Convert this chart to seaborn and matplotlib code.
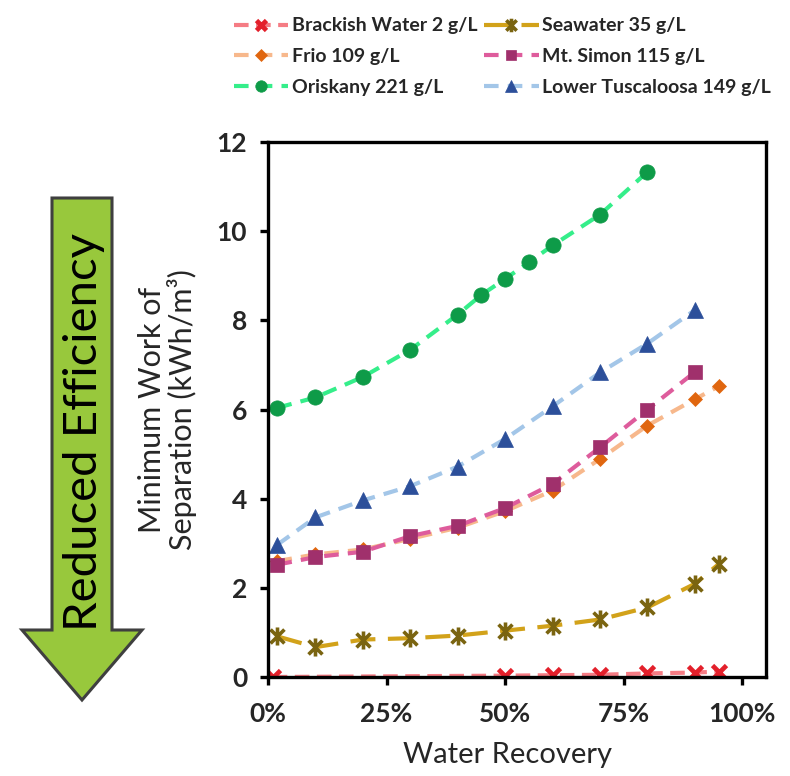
import numpy as np
import pandas as pd
import matplotlib
matplotlib.use("Agg")
import matplotlib.pyplot as plt
from matplotlib.path import Path
from matplotlib.patches import Polygon
import seaborn as sns

# ---------------- data ----------------
x_main = [0.02, 0.10, 0.20, 0.30, 0.40, 0.50, 0.60, 0.70, 0.80, 0.90, 0.95]
x_brackish = [0.01, 0.50, 0.60, 0.70, 0.80, 0.90, 0.95]
y_brackish = [0.00, 0.03, 0.04, 0.05, 0.08, 0.10, 0.12]
y_seawater = [0.91, 0.67, 0.84, 0.87, 0.93, 1.04, 1.15, 1.29, 1.56, 2.09, 2.53]
y_frio = [2.60, 2.75, 2.86, 3.10, 3.35, 3.72, 4.18, 4.89, 5.64, 6.23, 6.52]
x_mtsimon = [0.02, 0.10, 0.20, 0.30, 0.40, 0.50, 0.60, 0.70, 0.80, 0.90]
y_mtsimon = [2.52, 2.69, 2.81, 3.16, 3.39, 3.79, 4.33, 5.15, 6.00, 6.84]
x_oriskany = [0.02, 0.10, 0.20, 0.30, 0.40, 0.45, 0.50, 0.55, 0.60, 0.70, 0.80]
y_oriskany = [6.04, 6.27, 6.73, 7.34, 8.13, 8.57, 8.93, 9.30, 9.68, 10.37, 11.33]
x_tusc = [0.02, 0.10, 0.20, 0.30, 0.40, 0.50, 0.60, 0.70, 0.80, 0.90]
y_tusc = [2.97, 3.58, 3.96, 4.28, 4.72, 5.34, 6.07, 6.83, 7.48, 8.23]

labels = ["Brackish Water 2 g/L", "Seawater 35 g/L", "Frio 109 g/L",
          "Mt. Simon 115 g/L", "Oriskany 221 g/L", "Lower Tuscaloosa 149 g/L"]
x_ticks = [0, 0.25, 0.5, 0.75, 1.0]
x_ticklabels = ["0%", "25%", "50%", "75%", "100%"]
y_ticks = [0, 2, 4, 6, 8, 10, 12]

# ---------------- style ----------------
sns.set_theme(style="white")
plt.rcParams["font.family"] = ["Lato", "DejaVu Sans"]

W, H = 790, 776
fig = plt.figure(figsize=(W / 100, H / 100), dpi=100)
fig.patch.set_facecolor("white")

def fx(px):
    return px / W

def fy(py):
    return 1 - py / H

ax_l, ax_r, ax_t, ax_b = 268, 766, 142, 677
ax = fig.add_axes([fx(ax_l), fy(ax_b), fx(ax_r - ax_l), (ax_b - ax_t) / H])

star = Path([(-1, -1), (1, 1), (-1, 1), (1, -1), (0, -1.3), (0, 1.3)],
            [Path.MOVETO, Path.LINETO, Path.MOVETO, Path.LINETO, Path.MOVETO, Path.LINETO])

series = [
    dict(x=x_brackish, y=y_brackish, label=labels[0], line="#F57C84", mfc="#E3202B", mec="#E3202B",
         marker="x", ms=10, mew=3.4, dash=(3.5, 1.8)),
    dict(x=x_main, y=y_seawater, label=labels[1], line="#D2A21A", mfc="#7A6410", mec="#7A6410",
         marker=star, ms=13, mew=2.6, dash=(6, 3)),
    dict(x=x_main, y=y_frio, label=labels[2], line="#F7B88C", mfc="#E0660F", mec="#E0660F",
         marker="D", ms=7.5, mew=0.5, dash=(3.5, 2.2)),
    dict(x=x_mtsimon, y=y_mtsimon, label=labels[3], line="#DE5C9C", mfc="#A0306C", mec="#A0306C",
         marker="s", ms=9.5, mew=0.5, dash=(3.5, 2.2)),
    dict(x=x_oriskany, y=y_oriskany, label=labels[4], line="#35EE8A", mfc="#0E9B48", mec="#0E9B48",
         marker="o", ms=11, mew=0.5, dash=(3.5, 2.2)),
    dict(x=x_tusc, y=y_tusc, label=labels[5], line="#A3C6E8", mfc="#2C4F9A", mec="#2C4F9A",
         marker="^", ms=12, mew=0.5, dash=(3.5, 2.2)),
]

handles = {}
for s in series:
    df = pd.DataFrame({"x": s["x"], "y": s["y"]})
    sns.lineplot(data=df, x="x", y="y", ax=ax, color=s["line"], lw=3.0,
                 linestyle=(0, s["dash"]), marker=s["marker"], markersize=s["ms"],
                 markerfacecolor=s["mfc"], markeredgecolor=s["mec"], markeredgewidth=s["mew"],
                 label=s["label"], legend=False)
    handles[s["label"]] = ax.lines[-1]

ax.set_xlim(0, 1.05)
ax.set_ylim(0, 12)
ax.set_xticks(x_ticks)
ax.set_xticklabels(x_ticklabels)
ax.set_yticks(y_ticks)
for sp in ax.spines.values():
    sp.set_visible(True)
    sp.set_color("black")
    sp.set_linewidth(2.4)
ax.tick_params(axis="both", direction="out", length=6, width=2.4, color="black",
               labelsize=19, bottom=True, left=True)
ax.tick_params(axis="x", pad=12)
ax.tick_params(axis="y", pad=9)
for t in ax.get_xticklabels() + ax.get_yticklabels():
    t.set_fontweight("bold")
ax.grid(False)

ax.set_xlabel("Water Recovery", fontsize=21)
ax.xaxis.set_label_coords(0.48, -0.122)
ax.set_ylabel("Minimum Work of\nSeparation (kWh/m³)", fontsize=22, linespacing=1.05)
ax.yaxis.set_label_coords(-0.143, 0.5)

# legend
order = [labels[0], labels[2], labels[4], labels[1], labels[3], labels[5]]
fig.legend([handles[k] for k in order], order, loc="upper left",
           bbox_to_anchor=(fx(216), fy(0)), ncol=2, frameon=False,
           prop=dict(family=["Lato", "DejaVu Sans"], weight="bold", size=14),
           handlelength=2.8, handletextpad=0.2, columnspacing=0.35, labelspacing=0.7,
           markerscale=0.75)

# green arrow with text
pts_px = [(52, 198), (112, 198), (112, 630), (142, 630), (82, 700), (22, 630), (52, 630)]
poly = Polygon([(fx(px), fy(py)) for px, py in pts_px], closed=True,
               transform=fig.transFigure, facecolor="#98C83C", edgecolor="#3F3F3F", lw=2.2)
fig.patches.append(poly)
fig.text(fx(84), fy(432), "Reduced Efficiency", rotation=90, ha="center", va="center",
         fontsize=34, color="black")

fig.savefig("out.png", dpi=100, facecolor="white")
